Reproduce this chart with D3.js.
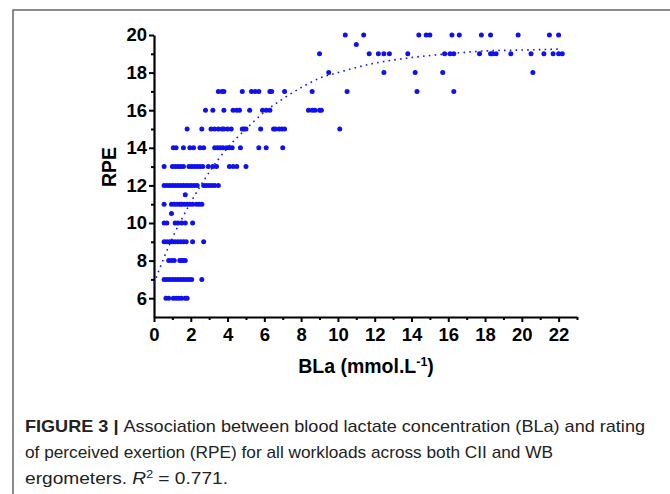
<!DOCTYPE html>
<html>
<head>
<meta charset="utf-8">
<script src="https://cdn.jsdelivr.net/npm/d3@7/dist/d3.min.js"></script>
<style>
  body { margin: 0; background: #fff; }
  svg { display: block; }
</style>
</head>
<body>
<div id="chart"></div>
<script>
// Chart size
const width = 670;
const height = 494;

// RPE levels and the BLa readings (mmol/L) seen at each level
const rpeLevels = [6, 7, 8, 9, 10, 10.5, 11, 11.5, 12, 13, 14, 15, 16, 17, 18, 19, 19.5, 20];
const blaAtLevel = [
    [0.65, 0.8, 1.05, 1.2, 1.35, 1.5, 1.7, 1.8],
    [0.55, 0.7, 0.85, 1.0, 1.15, 1.3, 1.45, 1.6, 1.75, 1.9, 2.05, 2.6],
    [0.8, 0.95, 1.1, 1.4, 1.5, 1.6, 1.7],
    [0.55, 0.7, 0.85, 1.0, 1.15, 1.3, 1.45, 1.6, 1.75, 2.1, 2.7],
    [0.55, 0.7, 1.15, 1.3, 1.5, 1.7, 2.1],
    [0.95],
    [0.55, 0.95, 1.1, 1.25, 1.4, 1.5, 1.65, 1.8, 1.95, 2.1, 2.3, 2.45, 2.6],
    [1.7],
    [0.55, 0.7, 0.85, 1.0, 1.15, 1.3, 1.45, 1.6, 1.75, 1.9, 2.05, 2.2, 2.35, 2.7, 2.85, 3.0, 3.15, 3.3, 3.5],
    [0.55, 1.0, 1.15, 1.3, 1.45, 1.6, 1.9, 2.05, 2.2, 2.35, 2.5, 2.65, 2.95, 3.2, 3.4, 4.1, 4.3, 4.5, 5.0],
    [1.05, 1.2, 1.6, 1.95, 2.15, 2.5, 2.7, 3.3, 3.45, 3.6, 3.75, 3.95, 4.1, 4.25, 4.7, 5.7, 6.1, 7.0],
    [1.8, 2.6, 3.1, 3.3, 3.5, 3.7, 3.8, 4.0, 4.2, 4.8, 4.9, 5.0, 5.8, 6.5, 6.6, 6.8, 6.95, 7.1, 10.1],
    [2.8, 3.2, 3.8, 4.3, 4.5, 4.65, 5.2, 5.9, 6.1, 6.3, 8.4, 8.6, 8.75, 9.0, 9.1],
    [3.5, 3.7, 3.8, 4.8, 5.3, 5.5, 5.7, 6.3, 6.4, 7.1, 8.6, 10.5, 14.3, 16.3],
    [9.5, 12.5, 14.2, 15.7, 20.6],
    [9.0, 11.7, 12.2, 12.5, 12.8, 13.8, 15.8, 16.1, 16.3, 17.7, 18.3, 18.4, 18.6, 19.4, 20.5, 21.2, 21.7, 22.0, 22.2],
    [11.0],
    [10.4, 11.4, 14.4, 14.8, 15.0, 16.2, 16.6, 17.8, 18.3, 19.8, 21.5, 22.0]
];

// Fitted curve
const fitBla = [0, 1, 2, 3, 4, 5, 6, 7, 8, 9, 10, 12, 14, 16, 18, 20, 22.1];
const fitRpe = [6.8, 9.2, 11.1, 12.7, 14.0, 15.0, 15.9, 16.6, 17.2, 17.7, 18.0, 18.5, 18.8, 19.0, 19.15, 19.2, 19.25];

// Tick labels
const xTicks = [0, 2, 4, 6, 8, 10, 12, 14, 16, 18, 20, 22];
const yTicks = [6, 8, 10, 12, 14, 16, 18, 20];

const captionLines = [
    "Association between blood lactate concentration (BLa) and rating",
    "of perceived exertion (RPE) for all workloads across both CII and WB",
    "ergometers."
];

const svg = d3.select("#chart").append("svg")
    .attr("width", width)
    .attr("height", height);

// Figure frame (top and left edges)
svg.append("path")
    .attr("d", `M13,${height} V10 H${width}`)
    .attr("fill", "none")
    .attr("stroke", "#666")
    .attr("stroke-width", 1.5);

// Scales
const x = d3.scaleLinear().domain([0, 23]).range([154, 577]);
const y = d3.scaleLinear().domain([5, 20]).range([317, 35]);

const axisFont = "'Liberation Sans', Arial, sans-serif";

// Minor ticks
const xMinor = d3.range(1, 24, 2);
const yMinor = d3.range(7, 20, 2);

svg.append("g")
    .attr("transform", `translate(0,${y(5)})`)
    .call(d3.axisBottom(x).tickValues(xTicks).tickSize(5).tickPadding(6).tickSizeOuter(0));

svg.append("g")
    .attr("transform", `translate(0,${y(5)})`)
    .call(d3.axisBottom(x).tickValues(xMinor).tickSize(3).tickFormat("").tickSizeOuter(0))
    .call(g => g.select(".domain").remove());

svg.append("g")
    .attr("transform", `translate(${x(0)},0)`)
    .call(d3.axisLeft(y).tickValues(yTicks).tickSize(5).tickPadding(2).tickSizeOuter(0));

svg.append("g")
    .attr("transform", `translate(${x(0)},0)`)
    .call(d3.axisLeft(y).tickValues(yMinor).tickSize(3).tickFormat("").tickSizeOuter(0))
    .call(g => g.select(".domain").remove());

svg.selectAll(".tick line").attr("stroke", "#000").attr("stroke-width", 2);
svg.selectAll(".domain").attr("stroke", "#000").attr("stroke-width", 2.2);
svg.selectAll(".tick text")
    .attr("fill", "#000")
    .style("font-family", axisFont)
    .style("font-size", "18.5px")
    .style("font-weight", "bold");

// Axis titles
svg.append("text")
    .attr("transform", "translate(116,167) rotate(-90)")
    .attr("text-anchor", "middle")
    .style("font-family", axisFont)
    .style("font-size", "19.5px")
    .style("font-weight", "bold")
    .text("RPE");

const xTitle = svg.append("text")
    .attr("x", 366)
    .attr("y", 373)
    .attr("text-anchor", "middle")
    .style("font-family", axisFont)
    .style("font-size", "19.5px")
    .style("font-weight", "bold");
xTitle.append("tspan").text("BLa (mmol.L");
xTitle.append("tspan").attr("dy", -7).style("font-size", "12.5px").text("-1");
xTitle.append("tspan").attr("dy", 7).text(")");

// Fitted curve (dotted)
const line = d3.line()
    .x((d, i) => x(fitBla[i]))
    .y(d => y(d))
    .curve(d3.curveMonotoneX);

svg.append("path")
    .datum(fitRpe)
    .attr("d", line)
    .attr("fill", "none")
    .attr("stroke", "#1515f0")
    .attr("stroke-width", 1.6)
    .attr("stroke-dasharray", "1.6,4.2");

// Points
const points = [];
rpeLevels.forEach((r, i) => blaAtLevel[i].forEach(b => points.push({bla: b, rpe: r})));

svg.append("g")
    .selectAll("circle")
    .data(points)
    .enter().append("circle")
    .attr("cx", d => x(d.bla))
    .attr("cy", d => y(d.rpe))
    .attr("r", 2.5)
    .attr("fill", "#1010f0");

// Caption
const capFont = "'Liberation Sans', Arial, sans-serif";
const capSize = "17px";

const cap1 = svg.append("text")
    .attr("x", 25).attr("y", 432)
    .attr("fill", "#222")
    .attr("textLength", 620)
    .attr("lengthAdjust", "spacingAndGlyphs")
    .style("font-family", capFont)
    .style("font-size", capSize);
cap1.append("tspan").style("font-weight", "bold").text("FIGURE 3 | ");
cap1.append("tspan").text(captionLines[0]);

svg.append("text")
    .attr("x", 25).attr("y", 458)
    .attr("fill", "#222")
    .attr("textLength", 528)
    .attr("lengthAdjust", "spacingAndGlyphs")
    .style("font-family", capFont)
    .style("font-size", capSize)
    .text(captionLines[1]);

const cap3 = svg.append("text")
    .attr("x", 25).attr("y", 484)
    .attr("fill", "#222")
    .attr("textLength", 203)
    .attr("lengthAdjust", "spacingAndGlyphs")
    .style("font-family", capFont)
    .style("font-size", capSize);
cap3.append("tspan").text(captionLines[2] + " ");
cap3.append("tspan").style("font-style", "italic").text("R");
cap3.append("tspan").attr("dy", -6).style("font-size", "11px").text("2");
cap3.append("tspan").attr("dy", 6).text(" = 0.771.");
</script>
</body>
</html>
